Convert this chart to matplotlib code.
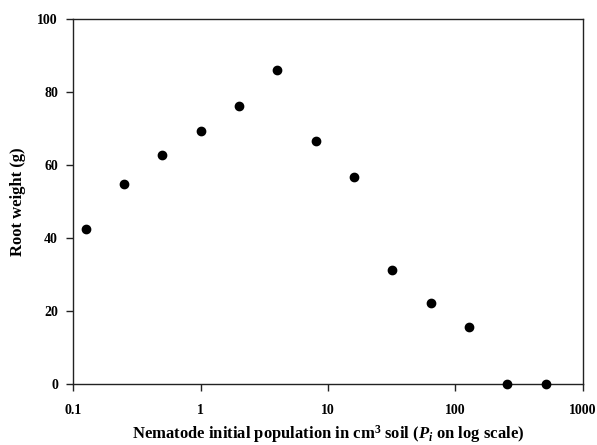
import matplotlib

matplotlib.use("Agg")
import matplotlib.pyplot as plt
from matplotlib.ticker import FixedLocator, NullLocator

plt.rcParams["font.family"] = ["Liberation Serif", "DejaVu Serif"]
plt.rcParams["font.weight"] = "bold"
plt.rcParams["mathtext.fontset"] = "custom"
plt.rcParams["mathtext.rm"] = "Liberation Serif:bold"
plt.rcParams["mathtext.it"] = "Liberation Serif:italic:bold"
plt.rcParams["mathtext.bf"] = "Liberation Serif:bold"

# initial population (per cm3 soil) and root weight (g)
pi_values = [0.125, 0.25, 0.5, 1, 2, 4, 8, 16, 32, 64, 128, 256, 512]
root_weight = [42.6, 54.8, 62.8, 69.2, 76.1, 86.1, 66.6, 56.6, 31.4, 22.4, 15.7, 0.1, 0.1]

x_ticks = [0.1, 1, 10, 100, 1000]
x_tick_labels = ["0.1", "1", "10", "100", "1000"]
y_ticks = [0, 20, 40, 60, 80, 100]

fig = plt.figure(figsize=(5.97, 4.45), dpi=100)
ax = fig.add_axes([0.1228, 0.136, 0.8532, 0.822])

ax.scatter(pi_values, root_weight, s=36, color="black", zorder=3, clip_on=False)

ax.set_xscale("log")
ax.set_xlim(0.1, 1000)
ax.set_ylim(0, 100)
ax.xaxis.set_major_locator(FixedLocator(x_ticks))
ax.xaxis.set_minor_locator(NullLocator())
ax.set_xticklabels(x_tick_labels)
ax.set_yticks(y_ticks)

for spine in ax.spines.values():
  spine.set_linewidth(1.0)
  spine.set_color("#222222")

ax.tick_params(axis="both", which="major", direction="out", length=5, width=1,
               labelsize=10, top=False, right=False, color="#222222")
ax.tick_params(axis="x", pad=9)
ax.tick_params(axis="y", pad=6)

ax.set_ylabel("Root weight (g)", fontsize=12, fontweight="bold")
ax.yaxis.set_label_coords(-0.093, 0.5)
ax.set_xlabel(r"Nematode initial population in cm$^{3}$ soil ($\mathit{P}_{i}$ on log scale)",
              fontsize=12, fontweight="bold", va="baseline")
ax.xaxis.set_label_coords(0.5, -0.147)

fig.savefig("out.png", dpi=100)
plt.close(fig)
